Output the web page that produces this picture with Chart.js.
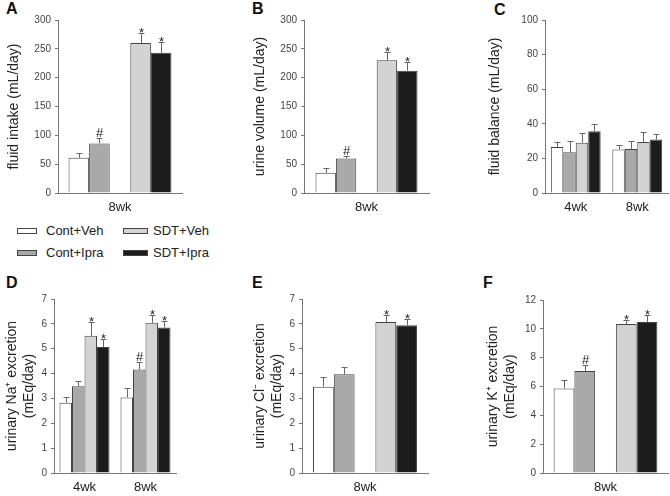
<!DOCTYPE html>
<html><head><meta charset="utf-8">
<script src="https://cdn.jsdelivr.net/npm/chart.js@4/dist/chart.umd.min.js"></script>
<style>
body{margin:0;width:670px;height:496px;background:#fff;position:relative;overflow:hidden;font-family:"Liberation Sans",Arial,sans-serif;}
canvas{position:absolute;}
.lab{position:absolute;font-weight:bold;font-size:16px;line-height:1;color:#111;}
.leg{position:absolute;font-size:13px;line-height:1;color:#222;}
.box{position:absolute;height:4px;border:1px solid #444;}
</style></head><body>
<div class="lab" style="left:6px;top:1px">A</div>
<div class="lab" style="left:252px;top:1px">B</div>
<div class="lab" style="left:494px;top:2px">C</div>
<div class="lab" style="left:6px;top:275px">D</div>
<div class="lab" style="left:252px;top:275px">E</div>
<div class="lab" style="left:483px;top:275px">F</div>
<div id="legend"></div>
<canvas id="cA"></canvas><canvas id="cB"></canvas><canvas id="cC"></canvas>
<canvas id="cD"></canvas><canvas id="cE"></canvas><canvas id="cF"></canvas>
<script>
// ---- data ----
const groups = ["Cont+Veh", "Cont+Ipra", "SDT+Veh", "SDT+Ipra"];
const weeksSingle = ["8wk"];
const weeksBoth = ["4wk", "8wk"];

const intakeMean = [61, 86, 260, 243];
const intakeErr  = [9, 9, 18, 18];
const intakeMarks = ["", "#", "*", "*"];

const urineMean = [35, 60, 230, 212];
const urineErr  = [8, 5, 14, 16];
const urineMarks = ["", "#", "*", "*"];

const balance4wkMean = [26.6, 23.6, 29.0, 35.7];
const balance4wkErr  = [2.7, 6.3, 5.7, 3.9];
const balance8wkMean = [25.1, 25.5, 29.5, 30.9];
const balance8wkErr  = [2.5, 4.4, 6.0, 3.3];

const na4wkMean = [2.83, 3.49, 5.52, 5.07];
const na4wkErr  = [0.21, 0.20, 0.55, 0.31];
const na4wkMarks = ["", "", "*", "*"];
const na8wkMean = [3.04, 4.16, 6.04, 5.85];
const na8wkErr  = [0.38, 0.31, 0.30, 0.26];
const na8wkMarks = ["", "#", "*", "*"];

const clMean = [3.47, 3.97, 6.07, 5.94];
const clErr  = [0.38, 0.28, 0.30, 0.24];
const clMarks = ["", "", "*", "*"];

const kMean = [5.86, 7.07, 10.33, 10.47];
const kErr  = [0.58, 0.39, 0.28, 0.46];
const kMarks = ["", "#", "*", "*"];

// ---- styles ----
const FONT = "'Liberation Sans', Arial, sans-serif";
Chart.defaults.font.family = FONT;
const fills = ["#ffffff", "#a9a9a9", "#d3d3d3", "#1c1c1c"];
const edge = "#444";

// legend (HTML)
const legPos = [[17,226,18,46],[17,248,18,46],[123,226,23,153],[123,248,23,153]];
const legEl = document.getElementById('legend');
groups.forEach((g,i)=>{
  const [bx,by,bw,tx] = legPos[i];
  const b = document.createElement('div'); b.className='box';
  b.style.left=bx+'px'; b.style.top=(by+2)+'px'; b.style.width=bw+'px'; b.style.background=fills[i];
  legEl.appendChild(b);
  const t = document.createElement('div'); t.className='leg';
  t.style.left=tx+'px'; t.style.top=(by-2)+'px'; t.textContent=g;
  legEl.appendChild(t);
});

const errPlugin = {
  id: 'errs',
  afterDatasetsDraw(chart) {
    const ctx = chart.ctx, y = chart.scales.y;
    chart.data.datasets.forEach((ds, i) => {
      if (!ds.errs) return;
      const meta = chart.getDatasetMeta(i);
      meta.data.forEach((bar, j) => {
        const v = ds.data[j];
        if (v == null) return;
        const yt = Math.round(y.getPixelForValue(v + ds.errs[j])) + 0.5;
        const x = Math.round(bar.x) + 0.5;
        ctx.save();
        ctx.strokeStyle = '#666'; ctx.lineWidth = 1;
        ctx.beginPath();
        ctx.moveTo(x, bar.y); ctx.lineTo(x, yt);
        ctx.moveTo(x - 3, yt); ctx.lineTo(x + 3, yt);
        ctx.stroke();
        const m = ds.marks ? ds.marks[j] : "";
        if (m) {
          ctx.fillStyle = '#222';
          ctx.font = '13px ' + FONT;
          ctx.textAlign = 'center';
          ctx.textBaseline = 'alphabetic';
          ctx.fillText(m, x, m === '*' ? yt + 3 : yt - 2);
        }
        ctx.restore();
      });
    });
  }
};

function singleSets(mean, err, marks) {
  const sets = groups.map((g, i) => ({label: g, data: [mean[i]], errs: [err[i]], marks: [marks[i]],
    backgroundColor: fills[i], borderColor: edge, borderWidth: 1}));
  sets.splice(2, 0, {label: '', data: [null], backgroundColor: 'rgba(0,0,0,0)', borderWidth: 0});
  return sets;
}
function doubleSets(m4, e4, k4, m8, e8, k8) {
  return groups.map((g, i) => ({label: g, data: [m4[i], m8[i]], errs: [e4[i], e8[i]],
    marks: [k4 ? k4[i] : "", k8 ? k8[i] : ""],
    backgroundColor: fills[i], borderColor: edge, borderWidth: 1}));
}

function makeChart(id, geom, labels, datasets, yMax, yStep, yTitle, catPct) {
  const cv = document.getElementById(id);
  const padTop = 12, padR = 2, XH = 22;
  const left = geom.l - geom.yw, top = geom.t - padTop;
  const w = geom.r + padR - left, h = geom.b + XH - top;
  cv.style.left = left + 'px'; cv.style.top = top + 'px';
  cv.width = w; cv.height = h; cv.style.width = w + 'px'; cv.style.height = h + 'px';
  new Chart(cv, {
    type: 'bar',
    data: {labels, datasets},
    options: {
      responsive: false, animation: false, devicePixelRatio: 1,
      layout: {padding: {top: padTop, right: padR, left: 0, bottom: 0}},
      plugins: {legend: {display: false}, tooltip: {enabled: false}},
      datasets: {bar: {categoryPercentage: catPct, barPercentage: 1}},
      scales: {
        x: {
          grid: {display: false, drawTicks: false, tickLength: 0}, border: {color: '#777', width: 1},
          ticks: {color: '#222', font: {size: 13}, padding: 7},
          afterFit(s) { s.height = XH; }
        },
        y: {
          min: 0, max: yMax,
          ticks: {stepSize: yStep, color: '#444', font: {size: 10}, padding: 4},
          grid: {drawOnChartArea: false, drawTicks: true, tickLength: 3, color: '#777'},
          border: {color: '#777', width: 1},
          title: {display: true, text: yTitle, color: '#222', font: {size: 14, lineHeight: 1.2}, padding: {top: 4, bottom: 0}},
          afterFit(s) { s.width = geom.yw; }
        }
      }
    },
    plugins: [errPlugin]
  });
}

makeChart('cA', {l: 58, r: 182, t: 20, b: 193, yw: 56}, weeksSingle,
  singleSets(intakeMean, intakeErr, intakeMarks), 300, 50, 'fluid intake (mL/day)', 0.83);
makeChart('cB', {l: 304, r: 429, t: 20, b: 193, yw: 56}, weeksSingle,
  singleSets(urineMean, urineErr, urineMarks), 300, 50, 'urine volume (mL/day)', 0.816);
makeChart('cC', {l: 545, r: 668, t: 20, b: 193, yw: 62}, weeksBoth,
  doubleSets(balance4wkMean, balance4wkErr, null, balance8wkMean, balance8wkErr, null), 100, 20, 'fluid balance (mL/day)', 0.81);
makeChart('cD', {l: 54, r: 176, t: 299, b: 473, yw: 54}, weeksBoth,
  doubleSets(na4wkMean, na4wkErr, na4wkMarks, na8wkMean, na8wkErr, na8wkMarks), 7, 1, ['urinary Na\u207A excretion', '(mEq/day)'], 0.82);
makeChart('cE', {l: 302, r: 428, t: 299, b: 473, yw: 54}, weeksSingle,
  singleSets(clMean, clErr, clMarks), 7, 1, ['urinary Cl\u207B excretion', '(mEq/day)'], 0.825);
makeChart('cF', {l: 543, r: 668, t: 300, b: 473, yw: 62}, weeksSingle,
  singleSets(kMean, kErr, kMarks), 12, 2, ['urinary K\u207A excretion', '(mEq/day)'], 0.83);
</script>
</body></html>
